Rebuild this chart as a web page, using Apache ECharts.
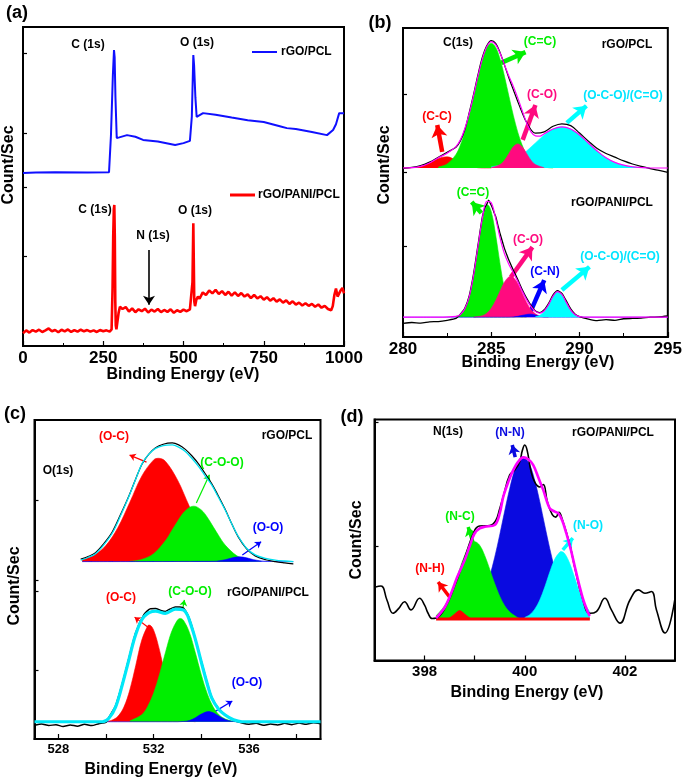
<!DOCTYPE html>
<html><head><meta charset="utf-8">
<script src="https://cdn.jsdelivr.net/npm/echarts@6/dist/echarts.min.js"></script>
<style>html,body{margin:0;padding:0;background:#fff}#c{width:685px;height:783px}</style>
</head><body><div id="c"></div>
<script>
// ---------- Panel (a): survey spectra ----------
const aBlue = [[0,54.2],[40,54.4],[100,54.5],[200,54.4],[268,54.5],[274,66],[280,85],[283.5,92.8],[285.5,90.5],[288,78],[292,65.2],[300,65.4],[324,66.1],[350,65.6],[374,64.6],[420,64.1],[474,63.0],[500,63.6],[520,64.3],[526,72],[530.6,91.2],[533,88],[537,78],[541,71.8],[561,73.0],[600,72.5],[650,71.6],[700,70.8],[750,70.2],[800,68.9],[822,68.3],[850,68.0],[900,67.1],[947,66.1],[966,67.7],[975,69.5],[985,73.0],[997,73.0],[1000,73.0]];
const aRed = [[0,4.0],[10,4.9],[20,4.2],[30,5.0],[40,4.5],[50,5.1],[60,4.4],[70,4.9],[80,5.5],[90,4.6],[100,5.0],[110,4.3],[120,5.1],[130,4.6],[140,5.2],[150,4.4],[160,5.0],[170,4.5],[180,5.1],[190,4.6],[200,5.0],[210,4.5],[220,4.9],[230,4.4],[240,5.0],[250,4.6],[260,4.9],[270,4.5],[276,5.2],[279,18],[281,34],[283,43],[284.5,44.2],[286,34],[287.5,14],[289,6.5],[291,5.2],[294,7.5],[298,10.5],[302,12.3],[306,12.8],[310,11.6],[320,12.2],[330,10.8],[340,11.8],[350,10.6],[360,11.5],[370,10.9],[380,11.7],[390,10.5],[400,11.4],[410,10.8],[420,11.6],[430,10.6],[440,11.3],[450,10.7],[460,11.5],[470,10.4],[480,11.2],[490,10.7],[500,11.4],[510,10.9],[520,11.5],[526,11.0],[528,20],[530.6,38.5],[532,27],[533.5,14],[536,12.5],[540,14.5],[545,15.5],[550,14.8],[560,16.8],[570,16.0],[580,17.4],[590,16.5],[600,17.6],[610,16.3],[620,17.2],[630,16.0],[640,17.0],[650,15.8],[660,16.8],[670,15.7],[680,16.6],[690,15.5],[700,16.2],[710,15.0],[720,16.0],[730,14.9],[740,15.6],[750,14.5],[760,15.3],[770,14.2],[780,15.0],[790,13.9],[800,14.6],[810,13.6],[820,14.3],[830,13.2],[840,14.0],[850,13.0],[860,13.6],[870,12.7],[880,13.4],[890,12.6],[900,13.2],[910,12.3],[920,13.0],[930,12.0],[940,12.6],[950,11.6],[960,11.2],[965,12.5],[970,16.0],[975,18.0],[980,15.5],[985,15.0],[990,17.5],[995,18.2],[1000,16.5]];
const aTicksY = [28.2, 49.8, 66.8, 91.8];

// ---------- Panel (b): C 1s ----------
const bBase = [54.7, 6.4];
const bTopRed = [[280,54.7],[280.5,54.8],[281,55.2],[281.5,56.3],[282,57.8],[282.5,58.3],[283,57.2],[283.5,55.8],[284,55.0],[284.5,54.7],[285,54.7]];
const bTopGreen = [[282,55.0],[282.5,56.0],[283,59.1],[283.25,62.1],[283.5,66.3],[283.75,71.7],[284,77.9],[284.25,84.3],[284.5,89.9],[284.75,93.7],[285,95.1],[285.25,93.7],[285.5,89.9],[285.75,84.3],[286,77.9],[286.25,71.7],[286.5,66.3],[286.75,62.1],[287,59.1],[287.5,56.0],[288,55.0],[288.5,54.7]];
const bTopPink = [[285,54.8],[285.5,55.8],[285.75,57.2],[286,59.4],[286.25,61.6],[286.5,62.5],[286.75,61.6],[287,59.4],[287.25,57.2],[287.5,55.8],[288,54.8]];
const bTopCyan = [[285,55.1],[285.5,55.6],[286,56.5],[286.5,58.0],[287,60.2],[287.5,62.8],[288,65.4],[288.5,67.3],[289,68.0],[289.5,67.3],[290,65.4],[290.5,62.8],[291,60.2],[291.5,58.0],[292,56.5],[292.5,55.6],[293,55.1],[293.5,54.85],[294,54.7]];
const bTopFit = [[280,54.7],[280.5,54.8],[281,55.2],[281.5,56.3],[282,58.0],[282.5,59.5],[283,61.6],[283.25,63.8],[283.5,67.4],[283.75,72.3],[284,78.2],[284.25,84.5],[284.5,90.1],[284.75,94.0],[285,95.6],[285.25,94.6],[285.5,91.8],[285.75,88.1],[286,84.4],[286.25,81.1],[286.5,77.4],[286.75,73.3],[287,69.3],[287.25,66.4],[287.5,65.1],[287.75,65.0],[288,65.8],[288.5,67.3],[289,68.0],[289.5,67.3],[290,65.4],[290.5,62.8],[291,60.2],[291.5,58.0],[292,56.5],[292.5,55.6],[293,55.1],[294,54.7],[295,54.7]];
const bTopData = [[280,54.6],[280.5,54.9],[281,55.5],[281.5,56.6],[282,58.2],[282.5,59.8],[283,61.4],[283.25,63.4],[283.5,67.0],[283.75,72.6],[284,78.6],[284.25,85.0],[284.5,90.6],[284.75,94.3],[285,95.9],[285.25,95.0],[285.5,92.0],[285.75,88.0],[286,83.8],[286.25,80.0],[286.5,76.2],[286.75,72.6],[287,69.5],[287.5,66.0],[288,66.4],[288.5,68.2],[289,69.0],[289.5,68.4],[290,66.0],[290.5,63.4],[291,61.0],[291.5,59.4],[292,58.2],[292.5,57.0],[293,56.0],[293.5,55.2],[294,54.5],[294.5,53.9],[295,53.3]];
const bBotGreen = [[283,6.65],[283.25,7.3],[283.5,9.1],[283.75,13.0],[284,20.0],[284.25,29.2],[284.5,38.0],[284.75,42.6],[284.8,42.7],[285,40.5],[285.25,33.0],[285.5,23.5],[285.75,15.5],[286,10.4],[286.25,7.8],[286.5,6.8],[286.75,6.5],[287,6.4]];
const bBotPink = [[284,6.45],[284.25,6.6],[284.5,6.9],[284.75,7.7],[285,9.3],[285.25,11.8],[285.5,14.9],[285.75,17.8],[286,19.5],[286.1,19.7],[286.25,19.3],[286.5,17.3],[286.75,14.2],[287,11.2],[287.25,8.9],[287.5,7.5],[287.75,6.8],[288,6.55],[288.25,6.4]];
const bBotBlue = [[280,6.4],[286,6.4],[286.25,6.5],[286.5,6.7],[286.75,7.0],[287,7.3],[287.15,7.4],[287.25,7.4],[287.5,7.1],[287.75,6.7],[288,6.5],[288.25,6.4],[295,6.4]];
const bBotCyan = [[287.5,6.55],[287.75,7.0],[288,8.25],[288.25,10.55],[288.5,13.2],[288.75,14.7],[289,13.8],[289.25,11.2],[289.5,8.7],[289.75,7.2],[290,6.6],[290.25,6.4]];
const bBotFit = [[280,6.4],[282,6.4],[283,6.65],[283.25,7.3],[283.5,9.1],[283.75,13.0],[284,20.05],[284.25,29.4],[284.5,38.5],[284.75,43.9],[285,43.4],[285.25,38.4],[285.5,32.0],[285.75,26.9],[286,23.5],[286.25,20.8],[286.5,18.0],[286.75,14.9],[287,12.1],[287.25,9.9],[287.5,8.3],[287.75,7.7],[288,8.5],[288.25,10.55],[288.5,13.2],[288.75,14.7],[289,13.8],[289.25,11.2],[289.5,8.7],[289.75,7.2],[290,6.6],[290.5,6.4],[295,6.4]];
const bBotData = [[280,4.4],[280.5,4.7],[281,4.5],[281.5,4.9],[282,5.0],[282.5,5.4],[283,6.0],[283.25,7.4],[283.5,9.3],[283.75,13.3],[284,20.5],[284.25,29.8],[284.5,39.0],[284.65,42.0],[284.75,43.0],[284.85,44.3],[284.95,43.2],[285.05,42.0],[285.15,40.4],[285.25,39.0],[285.4,35.6],[285.5,33.4],[285.65,30.5],[285.75,28.6],[285.9,26.3],[286,24.8],[286.25,21.6],[286.5,18.6],[286.75,15.4],[287,12.6],[287.25,10.2],[287.5,8.4],[287.75,7.9],[288,8.8],[288.25,10.9],[288.5,13.6],[288.75,15.0],[289,14.1],[289.25,11.7],[289.5,9.1],[289.75,7.4],[290,6.6],[290.5,5.8],[291,5.3],[291.5,5.6],[292,5.4],[292.5,5.9],[293,6.0],[293.5,6.1],[294,6.4],[294.5,6.5],[295,6.8]];
const bTicksY = [29.4, 53.4, 78.6];

// ---------- Panel (c): O 1s ----------
const cBase = [55.6, 5.4];
const cTopRed = [[529,56.3],[529.5,57.6],[530,60.7],[530.5,66.3],[531,74.2],[531.5,82.4],[532,87.5],[532.21,88.0],[532.5,87.0],[533,81.2],[533.5,72.9],[534,65.3],[534.5,60.1],[535,57.3],[535.5,56.1],[536,55.7]];
const cTopGreen = [[531,55.7],[531.5,56.3],[532,58.1],[532.5,62.2],[532.75,65.2],[533,68.2],[533.25,70.9],[533.5,72.6],[533.68,73.0],[534,71.8],[534.25,69.5],[534.5,66.5],[534.75,63.5],[535,60.8],[535.5,57.4],[536,56.0],[536.5,55.7]];
const cTopBlue = [[529,55.6],[534.5,55.7],[535,56.2],[535.3,56.8],[535.6,57.1],[535.9,56.8],[536.2,56.2],[536.7,55.7],[537.86,55.6]];
const cTopFit = [[528.94,56.1],[529.25,56.9],[529.56,58.1],[529.9,60.8],[530.26,64.5],[530.6,69.8],[530.96,76.0],[531.25,81.5],[531.52,86.4],[531.8,89.3],[532.08,91.1],[532.4,92.0],[532.78,92.2],[533.05,91.5],[533.33,90.1],[533.6,88.0],[533.89,85.4],[534.15,82.6],[534.44,79.6],[534.7,76.0],[535.0,71.8],[535.28,67.4],[535.56,63.4],[535.9,59.8],[536.26,57.7],[536.7,56.6],[537.1,56.1],[537.5,55.8],[537.86,55.6]];
const cTopData = [[528.94,56.4],[529.25,57.2],[529.56,58.4],[529.9,61.2],[530.26,64.9],[530.6,70.2],[530.96,76.2],[531.25,81.6],[531.52,86.3],[531.8,89.3],[532.08,91.3],[532.4,92.4],[532.78,92.8],[533.05,92.2],[533.33,90.8],[533.6,88.8],[533.89,86.2],[534.15,83.3],[534.44,80.0],[534.7,76.4],[535.0,72.0],[535.28,67.4],[535.56,63.2],[535.9,59.6],[536.26,57.4],[536.7,56.2],[537.1,55.6],[537.5,55.2],[537.86,54.9]];
const cBotRed = [[530,5.5],[530.25,5.9],[530.5,7.1],[530.75,10.0],[531,15.4],[531.25,23.1],[531.5,31.0],[531.75,35.5],[531.82,35.7],[532,34.1],[532.25,27.7],[532.5,19.5],[532.75,12.7],[533,8.4],[533.25,6.4],[533.5,5.7],[533.75,5.4]];
const cBotGreen = [[531,5.7],[531.5,7.6],[531.75,10.2],[532,14.4],[532.25,20.4],[532.5,27.3],[532.75,33.6],[533,37.3],[533.12,37.8],[533.25,37.2],[533.5,33.4],[533.75,27.0],[534,20.1],[534.25,14.2],[534.5,10.0],[534.75,7.5],[535,6.3],[535.25,5.7],[535.5,5.4]];
const cBotBlue = [[530,5.4],[533,5.4],[533.25,5.5],[533.5,5.8],[533.75,6.65],[534,7.8],[534.3,8.6],[534.5,8.2],[534.75,7.1],[535,6.1],[535.25,5.6],[535.5,5.4],[535.7,5.4]];
const cBotFit = [[527,5.4],[529.85,5.4],[530.12,6.5],[530.4,10.0],[530.68,16.9],[530.96,24.8],[531.24,32.6],[531.59,38.3],[532.08,40.1],[532.49,39.4],[532.91,40.7],[533.26,40.4],[533.61,34.7],[534.03,23.2],[534.24,17.5],[534.44,12.8],[534.72,9.4],[535.0,7.5],[535.35,6.0],[535.71,5.4],[539,5.4]];
const cBotData = [[527,4.3],[527.3,4.7],[527.6,4.2],[527.9,4.5],[528.2,3.9],[528.5,4.4],[528.8,4.0],[529.1,4.6],[529.4,4.2],[529.7,4.8],[530.0,5.2],[530.12,6.8],[530.4,10.4],[530.68,17.3],[530.96,25.3],[531.24,33.2],[531.59,39.0],[531.85,40.8],[532.08,40.9],[532.3,40.3],[532.49,40.0],[532.7,40.8],[532.91,41.4],[533.1,41.4],[533.26,41.0],[533.45,38.6],[533.61,35.2],[533.82,29.3],[534.03,23.6],[534.24,17.8],[534.44,13.0],[534.72,9.6],[535.0,7.6],[535.35,5.9],[535.71,5.0],[536.0,4.6],[536.3,4.9],[536.6,4.3],[536.9,4.7],[537.2,4.4],[537.5,4.9],[537.8,4.5],[538.1,5.0],[538.4,4.6],[538.7,5.1],[539,4.8]];
const cTicksY = [21.6, 46.4, 49.8, 74.9];

// ---------- Panel (d): N 1s ----------
const dBaseVal = 17.2;
const dBase = [[398.23,17.2],[401.3,17.2]];
const dRed = [[398.45,17.2],[398.5,17.7],[398.6,19.3],[398.7,20.7],[398.8,19.3],[398.9,17.7],[398.95,17.2]];
const dGreen = [[398.23,18.6],[398.3,20.1],[398.4,22.7],[398.5,26.7],[398.6,31.9],[398.7,37.9],[398.8,43.6],[398.9,47.8],[399.0,49.3],[399.1,47.8],[399.2,43.6],[399.3,37.9],[399.4,31.9],[399.5,26.7],[399.6,22.7],[399.7,20.1],[399.8,18.6],[399.9,17.4],[400.0,17.2]];
const dBlue = [[398.6,17.45],[398.8,18.4],[399.0,21.3],[399.2,28.7],[399.3,34.9],[399.4,42.8],[399.5,52.1],[399.6,62.0],[399.7,71.4],[399.8,79.0],[399.9,83.6],[399.97,84.5],[400.0,84.3],[400.1,81.2],[400.2,74.7],[400.3,65.9],[400.4,56.0],[400.5,46.4],[400.6,37.9],[400.7,31.0],[400.8,25.9],[400.9,22.3],[401.0,20.1],[401.2,17.9],[401.3,17.5]];
const dCyan = [[400.0,17.9],[400.1,19.0],[400.2,21.3],[400.3,25.1],[400.4,30.5],[400.5,36.7],[400.6,42.1],[400.7,45.0],[400.73,45.2],[400.8,44.3],[400.9,40.2],[401.0,34.2],[401.1,28.1],[401.2,23.4],[401.3,20.2]];
const dFit = [[398.23,17.6],[398.4,22.0],[398.53,27.9],[398.65,34.5],[398.8,41.7],[398.9,47.5],[399.0,52.8],[399.1,54.8],[399.2,55.5],[399.4,56.2],[399.5,61.0],[399.57,67.9],[399.67,74.0],[399.77,79.0],[399.87,82.5],[399.97,84.3],[400.07,83.5],[400.17,81.1],[400.27,76.0],[400.37,70.7],[400.5,63.1],[400.6,61.8],[400.67,61.1],[400.75,58.0],[400.83,52.8],[400.92,46.0],[401.0,38.9],[401.08,32.0],[401.17,25.1],[401.27,19.6],[401.3,18.5]];
const dData = [[397.0,30.4],[397.13,30.9],[397.25,25],[397.37,19.6],[397.48,21.5],[397.6,24.4],[397.73,21.0],[397.9,25.8],[398.0,23.0],[398.07,19.6],[398.15,17.4],[398.23,17.6],[398.4,21.5],[398.6,31.0],[398.8,42.5],[399.0,54.0],[399.1,55.8],[399.3,56.0],[399.42,58.0],[399.5,63.0],[399.57,68.0],[399.7,77.0],[399.8,79.0],[399.9,82.5],[399.95,87.0],[400.0,89.4],[400.05,87.0],[400.12,79.0],[400.2,74.0],[400.3,72.0],[400.37,73.0],[400.45,66.0],[400.55,60.5],[400.62,59.5],[400.68,61.5],[400.75,58.5],[400.9,48.0],[401.0,38.5],[401.15,26.0],[401.3,19.6],[401.43,20.3],[401.6,25.8],[401.73,21.0],[401.9,15.5],[402.1,25.1],[402.27,29.3],[402.4,27.9],[402.53,28.6],[402.63,21.0],[402.8,11.4],[403.0,25.8]];
const dTicksY = [47.5, 98.7];

// ---------- tick labels ----------
const xLabelsC = [528, 532, 536];
const xTicksC = [528, 530, 532, 534, 536, 538];
const xLabelsD = [398, 400, 402];
const xTicksD = [398, 399, 400, 401, 402];

// ---------- build ----------
const FONT = "'Liberation Sans', Arial, sans-serif";
const C = {red:'#ff0000', green:'#00ee00', pink:'#ff0a7f', cyan:'#00ffff', blue:'#0000ff', mag:'#ff00ff', black:'#000000'};

function xAxisCfg(i, min, max, fs, opts) {
  const o = {type:'value', gridIndex:i, min, max,
    axisLine:{show:true, onZero:false, lineStyle:{color:'#000', width:2}},
    axisTick:{show:true, inside:true, length:5, lineStyle:{color:'#000', width:1.2}},
    axisLabel:{color:'#000', fontFamily:FONT, fontWeight:'bold', fontSize:fs, margin:4, formatter: v => String(v)},
    splitLine:{show:false}};
  return Object.assign(o, opts || {});
}
function yAxisCfg(i, ticks) {
  return {type:'value', gridIndex:i, min:0, max:100,
    axisLine:{show:true, onZero:false, lineStyle:{color:'#000', width:2}},
    axisTick:{show:true, inside:true, length:4, customValues:ticks, lineStyle:{color:'#000', width:1.2}},
    axisLabel:{show:false}, splitLine:{show:false}};
}
function area(data, i, color, base) {
  return {type:'line', xAxisIndex:i, yAxisIndex:i, data, symbol:'none', smooth:0.35, silent:true,
    lineStyle:{color, width:0.6}, areaStyle:{color, opacity:1, origin:base}};
}
function line(data, i, color, width, smooth) {
  return {type:'line', xAxisIndex:i, yAxisIndex:i, data, symbol:'none', smooth: smooth === undefined ? 0.35 : smooth,
    silent:true, lineStyle:{color, width}};
}
function withArrows(s, list, size) {
  s.markLine = {silent:true, symbol:['none','arrow'], symbolSize:size, animation:false,
    label:{show:false}, emphasis:{disabled:true},
    data: list.map(a => [{coord:a[0], lineStyle:{color:a[2], width:a[3], type:'solid'}}, {coord:a[1]}])};
  return s;
}

const series = [];
// (a)
series.push(line(aBlue, 0, '#1010ff', 2, 0));
series.push(withArrows(line(aRed, 0, '#ff0000', 2.6, 0), [[[392.5,30.1],[392.5,12.9],'#000',1.6]], 9));
// (b) top
series.push(area(bTopRed, 1, C.red, bBase[0]));
series.push(area(bTopGreen, 1, C.green, bBase[0]));
series.push(area(bTopCyan, 1, C.cyan, bBase[0]));
series.push(area(bTopPink, 1, C.pink, bBase[0]));
series.push(line(bTopData, 1, C.black, 1.2));
series.push(line(bTopFit, 1, C.mag, 1.2));
// (b) bottom
series.push(area(bBotGreen, 1, C.green, bBase[1]));
series.push(area(bBotPink, 1, C.pink, bBase[1]));
series.push(area(bBotBlue, 1, C.blue, bBase[1]));
series.push(area(bBotCyan, 1, C.cyan, bBase[1]));
series.push(withArrows(line(bBotData, 1, C.black, 1.3, 0.2), [
  [[285.56,88.7],[286.94,92.2],C.green,4.5],
  [[282.22,59.9],[281.94,68.6],C.red,4.5],
  [[286.78,63.8],[287.5,75.1],C.pink,4.5],
  [[289.28,69.3],[290.39,74.8],C.cyan,4.5],
  [[284.44,40.1],[283.89,43.7],C.green,4.5],
  [[286.11,19.4],[287.33,29.1],C.pink,4.5],
  [[287.22,8.1],[288.0,18.4],C.blue,4.5],
  [[289.0,15.2],[290.56,22.7],C.cyan,4.5]], 12));
series.push(line(bBotFit, 1, C.mag, 1.2));
// (c) top
series.push(area(cTopRed, 2, C.red, cBase[0]));
series.push(area(cTopGreen, 2, C.green, cBase[0]));
series.push(area(cTopBlue, 2, C.blue, cBase[0]));
series.push(line(cTopData, 2, C.black, 1.2));
series.push(line(cTopFit, 2, '#00e0f0', 1.3));
// (c) bottom
series.push(area(cBotRed, 2, C.red, cBase[1]));
series.push(area(cBotGreen, 2, C.green, cBase[1]));
series.push(area(cBotBlue, 2, C.blue, cBase[1]));
series.push(withArrows(line(cBotData, 2, C.black, 1.5, 0.2), [
  [[531.70,86.8],[530.99,89.0],C.red,1.2],
  [[533.79,74.0],[534.34,82.8],C.green,1.2],
  [[535.72,57.7],[536.51,61.8],C.blue,1.2],
  [[531.75,35.1],[531.20,38.2],C.red,1.2],
  [[533.21,40.5],[533.29,43.6],C.green,1.2],
  [[534.55,8.5],[535.30,11.9],C.blue,1.2]], 6));
series.push(line(cBotFit, 2, '#00e8f8', 3.2));
// (d)
series.push(area(dBlue, 3, '#0a0ae0', dBaseVal));
series.push(area(dGreen, 3, C.green, dBaseVal));
series.push(area(dCyan, 3, C.cyan, dBaseVal));
series.push(area(dRed, 3, C.red, dBaseVal));
series.push(line(dBase, 3, C.red, 3, 0));
series.push(withArrows(line(dData, 3, C.black, 1.6, 0.45), [
  [[399.81,84.4],[399.75,89.4],'#0a0ae0',3.5],
  [[398.97,48.8],[398.87,55.4],C.green,3.5],
  [[400.76,45.9],[400.96,50.8],C.cyan,3.5],
  [[398.65,22.2],[398.27,32.6],C.red,3.5]], 9));
series.push(line(dFit, 3, C.mag, 2.6));
// distinct z per series so each one's outline is covered by later fills
series.forEach((s, i) => { s.z = 2 + i; });

// annotation texts
function T(x, y, text, color, size, rot) {
  return {type:'text', x, y, rotation: rot || 0, z:100, silent:true,
    style:{text, fill:color || '#000', font:'bold ' + (size || 12) + 'px ' + FONT, textAlign:'center', textVerticalAlign:'middle'}};
}
function TL(x, y, text, color, size) {
  return {type:'text', x, y, z:100, silent:true,
    style:{text, fill:color || '#000', font:'bold ' + (size || 12) + 'px ' + FONT, textAlign:'left', textVerticalAlign:'middle'}};
}
function L(x1, y1, x2, y2, color, w) {
  return {type:'line', z:100, silent:true, shape:{x1, y1, x2, y2}, style:{stroke:color, lineWidth:w}};
}
const R = Math.PI / 2;
const graphic = [
  T(17, 13, '(a)', '#000', 18), T(380, 23, '(b)', '#000', 18), T(15, 414, '(c)', '#000', 18), T(352, 417, '(d)', '#000', 18),
  // a
  T(88, 45, 'C (1s)'), T(197, 43, 'O (1s)'), T(95, 210, 'C (1s)'), T(153, 236, 'N (1s)'), T(195, 211, 'O (1s)'),
  L(252, 52, 277, 52, '#1010ff', 2), TL(281, 52, 'rGO/PCL', '#000', 12),
  L(230, 195, 255, 195, '#ff0000', 3), TL(258, 195, 'rGO/PANI/PCL', '#000', 12),
  T(9, 165, 'Count/Sec', '#000', 16, R), T(183, 375, 'Binding Energy (eV)', '#000', 16),
  // b
  T(458, 43, 'C(1s)'), T(540, 42, '(C=C)', C.green), T(627, 45, 'rGO/PCL'), T(437, 117, '(C-C)', C.red),
  T(542, 95, '(C-O)', C.pink), T(623, 96, '(O-C-O)/(C=O)', '#00e5ff'),
  T(612, 203, 'rGO/PANI/PCL'), T(473, 193, '(C=C)', C.green), T(528, 240, '(C-O)', C.pink),
  T(545, 272, '(C-N)', C.blue), T(620, 257, '(O-C-O)/(C=O)', '#00e5ff'),
  T(385, 165, 'Count/Sec', '#000', 16, R), T(538, 363, 'Binding Energy (eV)', '#000', 16),
  // c
  T(114, 437, '(O-C)', C.red), T(287, 436, 'rGO/PCL'), T(58, 471, 'O(1s)'), T(222, 463, '(C-O-O)', C.green),
  T(268, 528, '(O-O)', C.blue), T(121, 598, '(O-C)', C.red), T(190, 592, '(C-O-O)', C.green),
  T(268, 593, 'rGO/PANI/PCL'), T(247, 683, '(O-O)', C.blue),
  T(15, 586, 'Count/Sec', '#000', 16, R), T(161, 770, 'Binding Energy (eV)', '#000', 16),
  // d
  T(448, 432, 'N(1s)'), T(510, 433, '(N-N)', '#0a0ae0'), T(613, 433, 'rGO/PANI/PCL'),
  T(460, 517, '(N-C)', C.green), T(588, 526, '(N-O)', '#00e5ff'), T(430, 569, '(N-H)', C.red),
  T(357, 540, 'Count/Sec', '#000', 16, R), T(527, 693, 'Binding Energy (eV)', '#000', 16)
];

const gridBase = {show:true, borderColor:'#000', borderWidth:2, backgroundColor:'transparent', containLabel:false};
const option = {
  animation:false,
  grid:[
    Object.assign({left:23, top:27, width:321, height:319}, gridBase),
    Object.assign({left:403, top:28, width:269, height:309}, gridBase),
    Object.assign({left:34.5, top:420, width:286, height:319}, gridBase),
    Object.assign({left:374.5, top:419.5, width:300.5, height:241}, gridBase)
  ],
  xAxis:[
    xAxisCfg(0, 0, 1000, 17, {interval:250, minorTick:{show:true, splitNumber:2, length:3}}),
    xAxisCfg(1, 280, 295, 17, {interval:5, minorTick:{show:true, splitNumber:2, length:4}}),
    (function(){ const o = xAxisCfg(2, 527, 539, 13); o.axisLabel.customValues = xLabelsC; o.axisTick.customValues = xTicksC; return o; })(),
    (function(){ const o = xAxisCfg(3, 397, 403, 15); o.axisLabel.customValues = xLabelsD; o.axisTick.customValues = xTicksD; return o; })()
  ],
  yAxis:[yAxisCfg(0, aTicksY), yAxisCfg(1, bTicksY), yAxisCfg(2, cTicksY), yAxisCfg(3, dTicksY)],
  series,
  graphic
};
const chart = echarts.init(document.getElementById('c'), null, {renderer:'canvas'});
chart.setOption(option);
</script></body></html>
